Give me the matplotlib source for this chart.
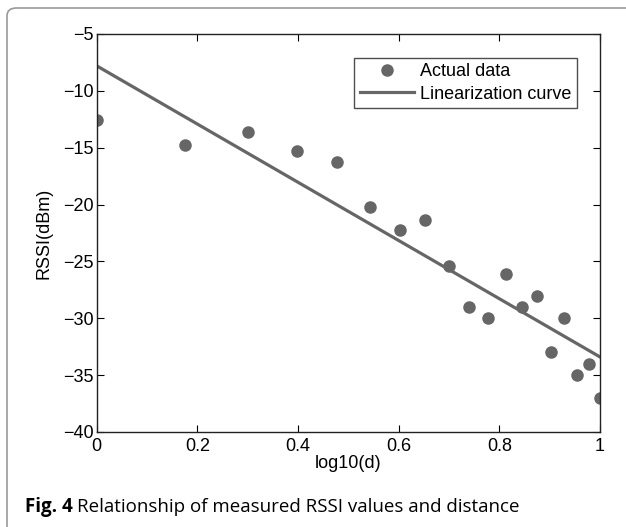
import matplotlib.pyplot as plt
from matplotlib.patches import FancyBboxPatch
import numpy as np

# measured points, d = 1, 1.5, ..., 10 m
log_d = [0, 0.176, 0.301, 0.398, 0.477, 0.544, 0.602, 0.653, 0.699, 0.740,
         0.778, 0.813, 0.845, 0.875, 0.903, 0.929, 0.954, 0.978, 1.0]
rssi = [-12.6, -14.8, -13.6, -15.3, -16.3, -20.2, -22.2, -21.4, -25.4, -29.0,
        -30.0, -26.1, -29.0, -28.0, -33.0, -30.0, -35.0, -34.0, -37.0]

# linearization curve endpoints
fit_x = [0, 1]
fit_y = [-7.8, -33.4]

x_ticks = [0, 0.2, 0.4, 0.6, 0.8, 1]
y_ticks = [-40, -35, -30, -25, -20, -15, -10, -5]

plt.rcParams['font.family'] = ['Liberation Sans', 'DejaVu Sans']
gray = '#666666'
fs = 13

W, H = 626, 527
fig = plt.figure(figsize=(W / 100, H / 100), dpi=100)
ax = fig.add_axes([96.7 / W, 1 - 432 / H, (600 - 96.7) / W, (432 - 34) / H])

ax.plot(log_d, rssi, 'o', color=gray, markersize=8, label='Actual data')
ax.plot(fit_x, fit_y, '-', color=gray, lw=2.3, label='Linearization curve')

ax.set_xlim(0, 1)
ax.set_ylim(-40, -5)
ax.set_xticks(x_ticks)
ax.set_xticklabels(['0', '0.2', '0.4', '0.6', '0.8', '1'])
ax.set_yticks(y_ticks)
ax.set_yticklabels([('\u2212%d' % -v) for v in y_ticks])
ax.tick_params(direction='in', top=True, right=True, length=5, width=0.8,
               labelsize=fs)
ax.tick_params(axis='x', pad=4)
ax.tick_params(axis='y', pad=2)
for s in ax.spines.values():
    s.set_linewidth(1.0)
    s.set_color('#222222')
ax.set_xlabel('log10(d)', fontsize=fs, labelpad=0)
ax.set_ylabel('RSSI(dBm)', fontsize=fs, labelpad=8)

leg = ax.legend(loc='upper right', bbox_to_anchor=(577 / W, 1 - 57.7 / H),
                bbox_transform=fig.transFigure, fancybox=False,
                edgecolor='#222222', fontsize=fs, borderpad=0.3,
                handlelength=3.0, handletextpad=0.35, labelspacing=0.3,
                borderaxespad=0)
leg.get_frame().set_linewidth(1.0)

# rounded caption frame, running off the right/bottom edge
frame = FancyBboxPatch((7 / W, -0.05), 1.1, 1 - 8 / H + 0.05,
                       boxstyle='round,pad=0,rounding_size=0.015',
                       transform=fig.transFigure, fill=False,
                       edgecolor='#999999', lw=1.2, clip_on=False)
fig.patches.append(frame)

cap_y = 1 - 507 / H
bold = fig.text(25 / W, cap_y, 'Fig. 4', fontsize=13.5, va='center',
                family='Open Sans', fontweight='bold')
r = fig.canvas.get_renderer()
bb = bold.get_window_extent(renderer=r)
fig.text((bb.x1 + 4) / W, cap_y, 'Relationship of measured RSSI values and distance',
         fontsize=13.5, va='center', family='Open Sans')

fig.savefig('out.png', dpi=100)
